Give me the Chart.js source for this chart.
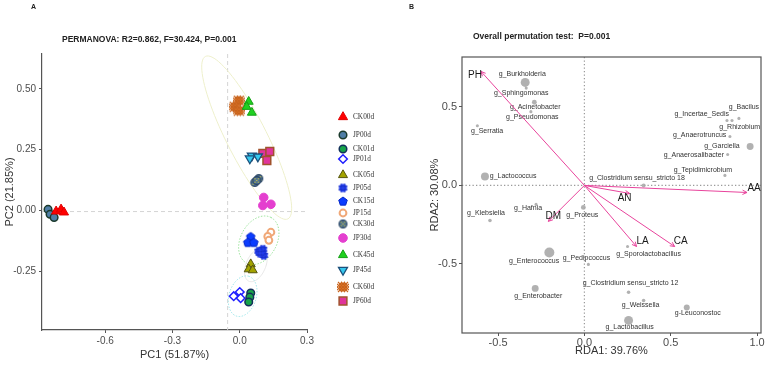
<!DOCTYPE html>
<html>
<head>
<meta charset="utf-8">
<script src="https://cdn.jsdelivr.net/npm/chart.js@4.4.1/dist/chart.umd.min.js"></script>
<style>
  body { margin: 0; background: #fff; overflow: hidden; }
  #wrap { position: relative; width: 767px; height: 365px; }
  #chartA { position: absolute; left: 0; top: 0; }
  #chartB { position: absolute; left: 383px; top: 0; }
</style>
</head>
<body>
<div id="wrap">
  <canvas id="chartA" width="383" height="365"></canvas>
  <canvas id="chartB" width="384" height="365"></canvas>
</div>
<script>
// ---------- panel A : PCoA ----------
const groups = ["CK00d", "JP00d", "CK01d", "JP01d", "CK05d", "JP05d", "CK15d",
                "JP15d", "CK30d", "JP30d", "CK45d", "JP45d", "CK60d", "JP60d"];
const pc1 = [
  [-0.819, -0.797, -0.784],
  [-0.855, -0.846, -0.828],
  [0.049, 0.045, 0.040],
  [-0.027, 0.000, 0.004],
  [0.049, 0.040, 0.058],
  [0.085, 0.103, 0.107, 0.090],
  [0.049, 0.036, 0.063],
  [0.139, 0.125, 0.130],
  [0.067, 0.085, 0.076],
  [0.107, 0.103, 0.139],
  [0.040, 0.031, 0.054],
  [0.054, 0.081, 0.045],
  [-0.004, -0.022, -0.004],
  [0.103, 0.134, 0.121]
];
const pc2 = [
  [-0.004, 0.004, -0.008],
  [0.004, -0.016, -0.029],
  [-0.340, -0.357, -0.377],
  [-0.353, -0.336, -0.361],
  [-0.221, -0.242, -0.246],
  [-0.168, -0.160, -0.185, -0.176],
  [-0.107, -0.131, -0.131],
  [-0.090, -0.107, -0.123],
  [0.115, 0.131, 0.123],
  [0.053, 0.020, 0.025],
  [0.447, 0.426, 0.402],
  [0.225, 0.221, 0.213],
  [0.451, 0.426, 0.410],
  [0.234, 0.242, 0.205]
];
const aXTicks = [-0.6, -0.3, 0, 0.3];
const aYTicks = [-0.25, 0, 0.25, 0.5];
// confidence ellipses: centre + two conjugate semi-axes, in PC units
const ellCx = [0.031, 0.085, 0.072, 0.013];
const ellCy = [0.299, -0.123, -0.2255, -0.353];
const ellAx = [0.184, 0.054, 0.031, 0.027];
const ellAy = [-0.334, 0.094, 0.066, 0.082];
const ellBx = [0.080, 0.072, 0.040, 0.058];
const ellBy = [0.037, -0.034, -0.016, -0.016];

// ---------- panel B : RDA ----------
const taxa = ["g_Burkholderia", "g_Sphingomonas", "g_Acinetobacter", "g_Pseudomonas", "g_Serratia",
  "g_Lactococcus", "g_Bacilus", "g_Incertae_Sedis", "g_Rhizobium", "g_Anaerotruncus", "g_Garciella",
  "g_Anaerosalibacter", "g_Tepidimicrobium", "g_Clostridium sensu_stricto 18", "g_Hafnia", "g_Klebsiella",
  "g_Proteus", "g_Enterococcus", "g_Pedipcoccus", "g_Sporolactobacillus", "g_Clostridium sensu_stricto 12",
  "g_Enterobacter", "g_Weissella", "g-Leuconostoc", "g_Lactobacillus"];
const rda1 = [-0.343, -0.337, -0.290, -0.310, -0.620, -0.576, 0.895, 0.826, 0.855, 0.843, 0.960,
  0.830, 0.814, 0.343, -0.280, -0.547, -0.006, -0.203, 0.023, 0.250, 0.256, -0.285, 0.343, 0.593, 0.256];
const rda2 = [0.656, 0.620, 0.530, 0.470, 0.380, 0.057, 0.427, 0.414, 0.414, 0.312, 0.248,
  0.197, 0.064, 0.000, -0.121, -0.223, -0.140, -0.427, -0.503, -0.389, -0.680, -0.656, -0.733, -0.777, -0.860];
// relative abundance (%), sets the point size
const abund = [12, 0.3, 2, 0.3, 0.3, 9, 0.3, 0.3, 0.3, 0.3, 6, 0.3, 0.3, 1, 0.3, 0.6, 2, 16, 0.3, 0.3,
  0.6, 6, 0.6, 4, 12];
const labelX = [-0.360, -0.366, -0.285, -0.302, -0.564, -0.413, 0.924, 0.680, 0.900, 0.668, 0.797,
  0.634, 0.686, 0.305, -0.326, -0.570, -0.012, -0.291, 0.012, 0.372, 0.267, -0.267, 0.326, 0.657, 0.262];
const labelY = [0.707, 0.586, 0.497, 0.433, 0.344, 0.057, 0.497, 0.452, 0.369, 0.318, 0.248,
  0.191, 0.096, 0.045, -0.146, -0.178, -0.191, -0.484, -0.465, -0.439, -0.624, -0.707, -0.764, -0.815, -0.904];
const envNames = ["PH", "AA", "AN", "DM", "LA", "CA"];
const envX = [-0.599, 0.942, 0.262, -0.209, 0.302, 0.523];
const envY = [0.726, -0.045, -0.051, -0.229, -0.389, -0.389];
const envLabelX = [-0.634, 0.983, 0.233, -0.180, 0.337, 0.558];
const envLabelY = [0.700, -0.019, -0.083, -0.197, -0.357, -0.357];
const bXTicks = [-0.5, 0, 0.5, 1.0];
const bYTicks = [-0.5, 0, 0.5];

const SANS = '"Liberation Sans", Arial, sans-serif';

// little canvases for the patterned markers
function markerCanvas(r, paint) {
  const c = document.createElement('canvas');
  c.width = c.height = Math.ceil(2 * r + 2);
  const g = c.getContext('2d');
  g.translate(c.width / 2, c.height / 2);
  paint(g, r);
  return c;
}
function circleWith(fill, stroke, pattern) {
  return (g, r) => {
    g.beginPath(); g.arc(0, 0, r - 0.6, 0, 2 * Math.PI);
    g.fillStyle = fill; g.fill();
    g.save(); g.clip(); pattern(g, r); g.restore();
    g.lineWidth = 1.1; g.strokeStyle = stroke; g.stroke();
  };
}
const pentagonBlue = markerCanvas(5, (g, r) => {
  g.beginPath();
  for (let i = 0; i < 5; i++) {
    const a = i * 2 * Math.PI / 5;
    g.lineTo((r - 0.5) * Math.sin(a), -(r - 0.5) * Math.cos(a) + 0.5);
  }
  g.closePath(); g.fillStyle = '#0b3cff'; g.fill();
  g.strokeStyle = '#0628c8'; g.lineWidth = 1; g.stroke();
});
const gridBlue = markerCanvas(4.5, circleWith('#1f3dff', '#0a22c8', (g, r) => {
  g.strokeStyle = '#9fb0ff'; g.lineWidth = 0.7; g.beginPath();
  [-1.6, 1.6].forEach(o => { g.moveTo(-r, o); g.lineTo(r, o); g.moveTo(o, -r); g.lineTo(o, r); });
  g.stroke();
}));
const dotSteel = markerCanvas(4.5, circleWith('#4a6e94', '#2a4462', (g) => {
  g.fillStyle = '#d8d040';
  [[-1.7, -1.7], [1.7, -1.7], [-1.7, 1.7], [1.7, 1.7], [0, 0]].forEach(([a, b]) => g.fillRect(a - 0.6, b - 0.6, 1.2, 1.2));
}));
const hatchOrange = markerCanvas(5, circleWith('#e47a2a', '#c8641e', (g, r) => {
  g.strokeStyle = '#b9561c'; g.lineWidth = 0.7; g.beginPath();
  for (let o = -6; o <= 6; o += 3) { g.moveTo(o - r, -r); g.lineTo(o + r, r); g.moveTo(o + r, -r); g.lineTo(o - r, r); }
  g.stroke();
}));

const groupStyle = {
  CK00d: { style: 'triangle', r: 5.3, bg: '#ff0000', bd: '#e00000', bw: 1 },
  JP00d: { style: 'circle', r: 3.8, bg: '#4f7ea6', bd: '#1b3a2c', bw: 1.5 },
  CK01d: { style: 'circle', r: 3.8, bg: '#17a44a', bd: '#13305a', bw: 1.5 },
  JP01d: { style: 'rectRot', r: 4.3, bg: '#ffffff', bd: '#1f1fff', bw: 1.5 },
  CK05d: { style: 'triangle', r: 5.2, bg: '#a3a300', bd: '#55550f', bw: 1 },
  JP05d: { style: gridBlue, r: 4.5, bg: '#1f3dff', bd: '#0a22c8', bw: 1 },
  CK15d: { style: pentagonBlue, r: 5, bg: '#0b3cff', bd: '#0628c8', bw: 1 },
  JP15d: { style: 'circle', r: 3.4, bg: '#ffffff', bd: '#f0a878', bw: 2 },
  CK30d: { style: dotSteel, r: 4.5, bg: '#4a6e94', bd: '#2a4462', bw: 1 },
  JP30d: { style: 'circle', r: 4.3, bg: '#e43fcf', bd: '#e43fcf', bw: 1 },
  CK45d: { style: 'triangle', r: 5.2, bg: '#1fd01f', bd: '#14a014', bw: 1 },
  JP45d: { style: 'triangle', r: 5.2, rot: 180, bg: '#35c8ee', bd: '#1c4f7a', bw: 1.3 },
  CK60d: { style: hatchOrange, r: 5, bg: '#e47a2a', bd: '#c8641e', bw: 1 },
  JP60d: { style: 'rect', r: 5.5, bg: '#e0349c', bd: '#a0522d', bw: 1.5 }
};
const legendRowsY = [117, 135, 149, 159, 175, 188, 201, 213, 224, 238, 255, 270, 287, 301];

const panelA = {
  id: 'panelA',
  beforeDatasetsDraw(chart) {
    const { ctx, chartArea: ca, scales: { x, y } } = chart;
    ctx.save();
    ctx.strokeStyle = '#d4d4d4';
    ctx.lineWidth = 1;
    ctx.setLineDash([4, 3]);
    const vx = x.getPixelForValue(-0.054), hy = y.getPixelForValue(-0.005);
    ctx.beginPath();
    ctx.moveTo(vx, ca.top); ctx.lineTo(vx, ca.bottom);
    ctx.moveTo(ca.left, hy); ctx.lineTo(ca.right, hy);
    ctx.stroke();
    const ellColor = ['#eef0cc', '#9be39b', '#e6e6e6', '#9ee6ea'];
    const ellDash = [[], [1.5, 1.5], [], [1.5, 1.5]];
    ellCx.forEach((cx, i) => {
      ctx.strokeStyle = ellColor[i];
      ctx.setLineDash(ellDash[i]);
      ctx.beginPath();
      for (let k = 0; k <= 90; k++) {
        const t = k / 90 * 2 * Math.PI;
        const px = x.getPixelForValue(cx + ellAx[i] * Math.cos(t) + ellBx[i] * Math.sin(t));
        const py = y.getPixelForValue(ellCy[i] + ellAy[i] * Math.cos(t) + ellBy[i] * Math.sin(t));
        k ? ctx.lineTo(px, py) : ctx.moveTo(px, py);
      }
      ctx.closePath();
      ctx.stroke();
    });
    ctx.restore();
  },
  afterDraw(chart) {
    const ctx = chart.ctx;
    ctx.save();
    ctx.fillStyle = '#222';
    ctx.textBaseline = 'middle';
    ctx.font = 'bold 7px ' + SANS;
    ctx.fillText('A', 31, 7);
    ctx.font = 'bold 8.5px ' + SANS;
    ctx.fillText('PERMANOVA: R2=0.862, F=30.424, P=0.001', 62, 40);
    // legend
    chart.data.datasets.forEach((ds, i) => {
      ctx.fillStyle = ds.pointBackgroundColor;
      ctx.strokeStyle = ds.pointBorderColor;
      ctx.lineWidth = ds.pointBorderWidth;
      Chart.helpers.drawPoint(ctx, {
        pointStyle: ds.pointStyle, radius: ds.pointRadius,
        rotation: ds.pointRotation, borderWidth: ds.pointBorderWidth
      }, 343, legendRowsY[i]);
      ctx.fillStyle = '#333';
      ctx.font = '7.3px "Liberation Serif", "Times New Roman", serif';
      ctx.fillText(ds.label, 353, legendRowsY[i] + 0.5);
    });
    ctx.restore();
  }
};

new Chart(document.getElementById('chartA'), {
  type: 'scatter',
  data: {
    datasets: groups.map((g, i) => {
      const s = groupStyle[g];
      return {
        label: g,
        data: pc1[i].map((v, k) => ({ x: v, y: pc2[i][k] })),
        pointStyle: s.style,
        pointRadius: s.r,
        pointRotation: s.rot || 0,
        pointBackgroundColor: s.bg,
        pointBorderColor: s.bd,
        pointBorderWidth: s.bw
      };
    })
  },
  options: {
    responsive: false,
    animation: false,
    events: [],
    layout: { padding: { top: 54, right: 76, bottom: 0, left: 0 } },
    plugins: { legend: { display: false }, tooltip: { enabled: false } },
    scales: {
      x: {
        min: -0.882, max: 0.3,
        afterBuildTicks: s => { s.ticks = aXTicks.map(v => ({ value: v })); },
        afterFit: s => { s.height = 35; },
        ticks: { callback: v => v.toFixed(1), color: '#4d4d4d', font: { size: 10, family: SANS }, padding: 2, maxRotation: 0 },
        grid: { drawOnChartArea: false, tickLength: 3, color: '#555' },
        border: { color: '#555', width: 1.2 },
        title: { display: true, text: 'PC1 (51.87%)', color: '#333', font: { size: 11, family: SANS }, padding: { top: 0, bottom: 3.4 } }
      },
      y: {
        min: -0.492, max: 0.643,
        afterBuildTicks: s => { s.ticks = aYTicks.map(v => ({ value: v })); },
        afterFit: s => { s.width = 42; },
        ticks: { callback: v => v.toFixed(2), color: '#4d4d4d', font: { size: 10, family: SANS }, padding: 3 },
        grid: { drawOnChartArea: false, tickLength: 3, color: '#555' },
        border: { color: '#555', width: 1.2 },
        title: { display: true, text: 'PC2 (21.85%)', color: '#333', font: { size: 11, family: SANS }, padding: { top: 3.4, bottom: 0 } }
      }
    }
  },
  plugins: [panelA]
});

// ---------- panel B drawing ----------
const panelB = {
  id: 'panelB',
  beforeDatasetsDraw(chart) {
    const { ctx, chartArea: ca, scales: { x, y } } = chart;
    ctx.save();
    ctx.strokeStyle = '#9a9a9a';
    ctx.lineWidth = 1.2;
    ctx.setLineDash([1.3, 2.2]);
    const x0 = x.getPixelForValue(0), y0 = y.getPixelForValue(0);
    ctx.beginPath();
    ctx.moveTo(x0, ca.top); ctx.lineTo(x0, ca.bottom);
    ctx.moveTo(ca.left, y0); ctx.lineTo(ca.right, y0);
    ctx.stroke();
    ctx.setLineDash([]);
    ctx.strokeStyle = '#555';
    ctx.lineWidth = 1.2;
    ctx.strokeRect(ca.left, ca.top, ca.right - ca.left, ca.bottom - ca.top);
    ctx.restore();
  },
  afterDatasetsDraw(chart) {
    const { ctx, scales: { x, y } } = chart;
    ctx.save();
    // taxa labels
    ctx.fillStyle = '#333';
    ctx.font = '7px ' + SANS;
    ctx.textAlign = 'center';
    ctx.textBaseline = 'middle';
    taxa.forEach((t, i) => ctx.fillText(t, x.getPixelForValue(labelX[i]), y.getPixelForValue(labelY[i])));
    // environmental arrows
    const x0 = x.getPixelForValue(0), y0 = y.getPixelForValue(0);
    ctx.strokeStyle = '#e8449c';
    ctx.lineWidth = 1;
    envX.forEach((vx, i) => {
      const x1 = x.getPixelForValue(vx), y1 = y.getPixelForValue(envY[i]);
      const a = Math.atan2(y1 - y0, x1 - x0);
      ctx.beginPath();
      ctx.moveTo(x0, y0); ctx.lineTo(x1, y1);
      ctx.moveTo(x1 - 5 * Math.cos(a - 0.45), y1 - 5 * Math.sin(a - 0.45));
      ctx.lineTo(x1, y1);
      ctx.lineTo(x1 - 5 * Math.cos(a + 0.45), y1 - 5 * Math.sin(a + 0.45));
      ctx.stroke();
    });
    ctx.fillStyle = '#1a1a1a';
    ctx.font = '10px ' + SANS;
    envNames.forEach((n, i) => ctx.fillText(n, x.getPixelForValue(envLabelX[i]), y.getPixelForValue(envLabelY[i])));
    ctx.restore();
  },
  afterDraw(chart) {
    const ctx = chart.ctx;
    ctx.save();
    ctx.fillStyle = '#222';
    ctx.textBaseline = 'middle';
    ctx.font = 'bold 7px ' + SANS;
    ctx.fillText('B', 26, 7);
    ctx.font = 'bold 8.5px ' + SANS;
    ctx.fillText('Overall permutation test:  P=0.001', 90, 37);
    ctx.restore();
  }
};

new Chart(document.getElementById('chartB'), {
  type: 'scatter',
  data: {
    datasets: [{
      label: 'genera',
      data: taxa.map((t, i) => ({ x: rda1[i], y: rda2[i] })),
      pointRadius: abund.map(a => 1 + Math.sqrt(a)),
      pointBackgroundColor: 'rgba(168,168,168,0.9)',
      pointBorderWidth: 0
    }]
  },
  options: {
    responsive: false,
    animation: false,
    events: [],
    layout: { padding: { top: 57, right: 6, bottom: 0, left: 40 } },
    plugins: { legend: { display: false }, tooltip: { enabled: false } },
    scales: {
      x: {
        min: -0.709, max: 1.023,
        afterBuildTicks: s => { s.ticks = bXTicks.map(v => ({ value: v })); },
        afterFit: s => { s.height = 32; },
        ticks: { callback: v => v.toFixed(1), color: '#4d4d4d', font: { size: 11, family: SANS }, padding: 0, maxRotation: 0 },
        grid: { drawOnChartArea: false, tickLength: 3, color: '#555' },
        border: { display: false },
        title: { display: true, text: 'RDA1: 39.76%', color: '#333', font: { size: 11, family: SANS }, padding: { top: 0, bottom: 7.4 } }
      },
      y: {
        min: -0.94, max: 0.818,
        afterBuildTicks: s => { s.ticks = bYTicks.map(v => ({ value: v })); },
        afterFit: s => { s.width = 39; },
        ticks: { callback: v => v.toFixed(1), color: '#4d4d4d', font: { size: 11, family: SANS }, padding: 2 },
        grid: { drawOnChartArea: false, tickLength: 3, color: '#555' },
        border: { display: false },
        title: { display: true, text: 'RDA2: 30.08%', color: '#333', font: { size: 11, family: SANS }, padding: { top: 5, bottom: 0 } }
      }
    }
  },
  plugins: [panelB]
});
</script>
</body>
</html>
